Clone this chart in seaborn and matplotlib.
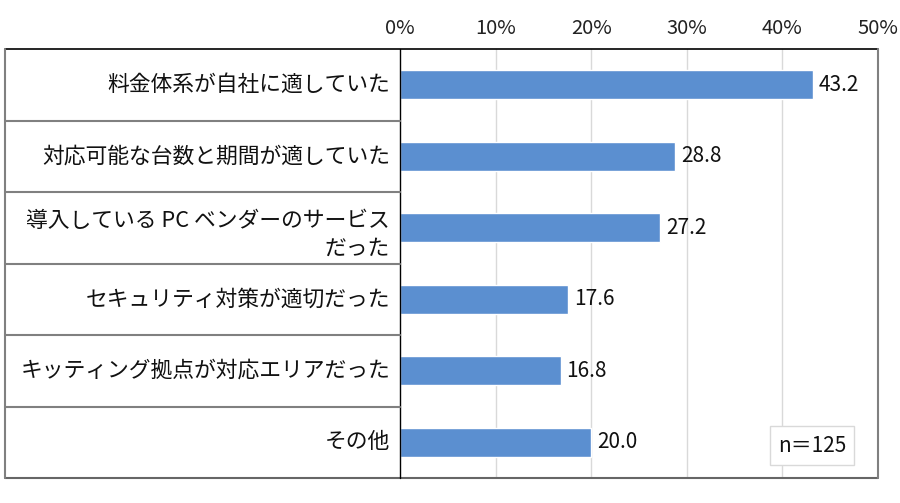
import matplotlib
matplotlib.use("Agg")
import matplotlib.pyplot as plt
import seaborn as sns
import pandas as pd

categories = [
    "料金体系が自社に適していた",
    "対応可能な台数と期間が適していた",
    "導入している PC ベンダーのサービス\nだった",
    "セキュリティ対策が適切だった",
    "キッティング拠点が対応エリアだった",
    "その他",
]
values = [43.2, 28.8, 27.2, 17.6, 16.8, 20.0]
xticks = [0, 10, 20, 30, 40, 50]
xtick_labels = ["0%", "10%", "20%", "30%", "40%", "50%"]
n_label = "n＝125"

sns.set_theme(style="white")
plt.rcParams["font.family"] = ["Noto Sans CJK JP", "DejaVu Sans"]

df = pd.DataFrame({"cat": categories, "val": values})

fig = plt.figure(figsize=(9, 5.03), dpi=100)
L, R, T, B = 400 / 900, 878 / 900, 1 - 49 / 503, 1 - 478 / 503
ax = fig.add_axes([L, B, R - L, T - B])

sns.barplot(data=df, x="val", y="cat", orient="h", color="#5B8FD0",
            width=0.4, ax=ax, saturation=1)

ax.set_xlim(0, 50)
ax.set_ylim(len(categories) - 0.5, -0.5)
ax.set_xticks(xticks)
ax.set_xticklabels(xtick_labels, fontsize=14.5, color="#222222")
ax.xaxis.tick_top()
ax.tick_params(axis="x", length=0, pad=7)
ax.set_yticks([])
ax.set_xlabel("")
ax.set_ylabel("")

for x in xticks[1:-1]:
    ax.axvline(x, color="#D9D9D9", lw=1, zorder=0)

for s in ["left", "top", "right", "bottom"]:
    ax.spines[s].set_visible(False)

# borders
left_ext = -(400 - 5) / 478
ax.plot([left_ext, 1], [1, 1], transform=ax.transAxes, color="black",
        lw=1.2, clip_on=False)
ax.plot([left_ext, 1], [0, 0], transform=ax.transAxes, color="#666666",
        lw=1.5, clip_on=False)
ax.plot([left_ext, left_ext], [0, 1], transform=ax.transAxes, color="#808080",
        lw=1.5, clip_on=False)
ax.plot([1, 1], [0, 1], transform=ax.transAxes, color="#808080",
        lw=1.5, clip_on=False)
ax.plot([0, 0], [0, 1], transform=ax.transAxes, color="black",
        lw=1.0, clip_on=False)
for i in range(1, len(categories)):
    ax.plot([left_ext, 0], [i - 0.5, i - 0.5], transform=ax.get_yaxis_transform(),
            color="#808080", lw=1.5, clip_on=False)

# category labels
for i, c in enumerate(categories):
    lines = c.split("\n")
    if len(lines) == 1:
        ax.text(-10 / 478, i, c, transform=ax.get_yaxis_transform(), ha="right",
                va="center", fontsize=15.7, color="#111111")
    else:
        offsets = [-0.09, 0.29]
        for ln, off in zip(lines, offsets):
            ax.text(-10 / 478, i + off, ln, transform=ax.get_yaxis_transform(),
                    ha="right", va="center", fontsize=15.7, color="#111111")

# value labels
for i, v in enumerate(values):
    ax.text(v + 0.6, i, f"{v:.1f}", ha="left", va="center", fontsize=15,
            color="#111111")

ax.text(0.862, 0.075, n_label, transform=ax.transAxes, ha="center", va="center",
        fontsize=15, color="#111111",
        bbox=dict(boxstyle="square,pad=0.4", fc="white", ec="#D9D9D9", lw=1))

fig.savefig("out.png", dpi=100)
